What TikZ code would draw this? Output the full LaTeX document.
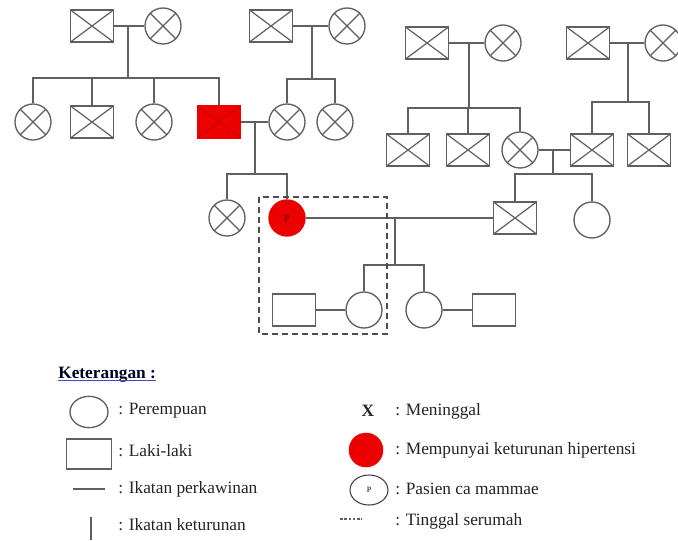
\documentclass[tikz,border=0pt]{standalone}
\usepackage{fontspec}
\setmainfont{Liberation Serif}
\usetikzlibrary{shapes.geometric}
\definecolor{lnc}{RGB}{95,95,95}
\definecolor{hred}{RGB}{237,0,0}
\definecolor{txt}{RGB}{35,35,35}
\definecolor{ulc}{RGB}{70,70,200}
\tikzset{
  ln/.style={draw=lnc, line width=1pt},
  male/.style={rectangle, draw=lnc, line width=1pt, minimum width=32.25pt, minimum height=24pt, inner sep=0pt, fill=white},
  female/.style={ellipse, draw=lnc, line width=1pt, minimum width=27pt, minimum height=27pt, inner sep=0pt, fill=white},
  dead/.style={path picture={\draw[lnc, line width=0.9pt] (path picture bounding box.north west)--(path picture bounding box.south east) (path picture bounding box.south west)--(path picture bounding box.north east);}},
  reddead/.style={fill=hred, draw=hred, path picture={\draw[red!75!black, line width=0.6pt] (path picture bounding box.north west)--(path picture bounding box.south east) (path picture bounding box.south west)--(path picture bounding box.north east);}},
  lab/.style={anchor=west, inner sep=0pt, text=txt, font=\fontsize{13}{15}\selectfont},
}
\begin{document}
\begin{tikzpicture}[x=0.75pt, y=-0.75pt]
\useasboundingbox (0,0) rectangle (678,540);
% ---------- generation 1
\node[male, dead] (A1) at (92,26) {};
\node[female, dead] (A2) at (163,26) {};
\node[male, dead] (B1) at (271,26) {};
\node[female, dead] (B2) at (347,26) {};
\node[male, dead] (C1) at (427,43) {};
\node[female, dead] (C2) at (503,43) {};
\node[male, dead] (D1) at (588,43) {};
\node[female, dead] (D2) at (663,43) {};
% ---------- generation 2
\node[female, dead] (a1) at (33,122) {};
\node[male, dead] (a2) at (92,122) {};
\node[female, dead] (a3) at (154,122) {};
\node[male, reddead] (a4) at (219,122) {};
\node[female, dead] (b1) at (287,122) {};
\node[female, dead] (b2) at (335,122) {};
\node[male, dead] (c1) at (408,150) {};
\node[male, dead] (c2) at (468,150) {};
\node[female, dead] (c3) at (520,150) {};
\node[male, dead] (d1) at (592,150) {};
\node[male, dead] (d2) at (649,150) {};
% ---------- generation 3
\node[female, dead] (e1) at (227,218) {};
\node[female, fill=hred, draw=hred] (e2) at (287,218) {\fontsize{7}{7}\selectfont\bfseries\color{red!40!black}p};
\node[male, dead] (f1) at (515,218) {};
\node[female] (f2) at (592,220) {};
% ---------- generation 4
\node[male] (g1) at (294,310) {};
\node[female] (g2) at (364,310) {};
\node[female] (g3) at (424,310) {};
\node[male] (g4) at (494,310) {};
% ---------- junction coordinates
\coordinate (mA) at (128,26);  \coordinate (bA) at (128,78);
\coordinate (mB) at (312,26);  \coordinate (bB) at (312,79);
\coordinate (mC) at (469,43);  \coordinate (bC) at (469,108);
\coordinate (mD) at (628,43);  \coordinate (bD) at (628,102);
\coordinate (mE) at (255,122); \coordinate (bE) at (255,174);
\coordinate (mF) at (553,150); \coordinate (bF) at (553,174);
\coordinate (mG) at (395,218); \coordinate (bG) at (395,265);
% ---------- marriages
\draw[ln] (A1) -- (A2);
\draw[ln] (B1) -- (B2);
\draw[ln] (C1) -- (C2);
\draw[ln] (D1) -- (D2);
\draw[ln] (a4) -- (b1);
\draw[ln] (c3) -- (d1);
\draw[ln] (e2) -- (f1);
\draw[ln] (g1) -- (g2);
\draw[ln] (g3) -- (g4);
% ---------- descent
\draw[ln] (mA) -- (bA);
\draw[ln] (a1.north) -- (a1.north |- bA) -- (a4.north |- bA) -- (a4.north);
\draw[ln] (a2.north) -- (a2.north |- bA);
\draw[ln] (a3.north) -- (a3.north |- bA);
\draw[ln] (mB) -- (bB);
\draw[ln] (b1.north) -- (b1.north |- bB) -- (b2.north |- bB) -- (b2.north);
\draw[ln] (mC) -- (bC);
\draw[ln] (c1.north) -- (c1.north |- bC) -- (c3.north |- bC) -- (c3.north);
\draw[ln] (c2.north) -- (c2.north |- bC);
\draw[ln] (mD) -- (bD);
\draw[ln] (d1.north) -- (d1.north |- bD) -- (d2.north |- bD) -- (d2.north);
\draw[ln] (mE) -- (bE);
\draw[ln] (e1.north) -- (e1.north |- bE) -- (e2.north |- bE) -- (e2.north);
\draw[ln] (mF) -- (bF);
\draw[ln] (f1.north) -- (f1.north |- bF) -- (f2.north |- bF) -- (f2.north);
\draw[ln] (mG) -- (bG);
\draw[ln] (g2.north) -- (g2.north |- bG) -- (g3.north |- bG) -- (g3.north);
% ---------- household box
\draw[draw=black!70, line width=1.6pt, dash pattern=on 4.5pt off 3pt] (259,197) rectangle (387,334);
% ---------- legend
\node[anchor=west, inner sep=0pt, text=black!85!blue, font=\fontsize{13}{15}\selectfont\bfseries] (ket) at (58,375) {Keterangan :};
\draw[ulc, line width=0.8pt] ([yshift=-1.5pt]ket.base west) -- ([yshift=-1.5pt]ket.base east);
\node[ellipse, draw=lnc, line width=1pt, minimum width=28.5pt, minimum height=23.5pt, inner sep=0pt] (lf) at (89,412) {};
\node[lab] (lft) at (118,411) {: Perempuan};
\node[rectangle, draw=lnc, line width=1pt, minimum width=33.75pt, minimum height=22.5pt, inner sep=0pt] (lm) at (89,454) {};
\node[lab] (lmt) at (118,451) {: Laki-laki};
\coordinate (lw1) at (73,489); \coordinate (lw2) at (105,489);
\draw[ln] (lw1) -- (lw2);
\node[lab] (lwt) at (118,489) {: Ikatan perkawinan};
\coordinate (ld1) at (91,517); \coordinate (ld2) at (91,540);
\draw[ln] (ld1) -- (ld2);
\node[lab] (ldt) at (118,525) {: Ikatan keturunan};
\node[anchor=center, inner sep=0pt, text=txt, font=\fontsize{13}{15}\selectfont\bfseries] (lx) at (368,411) {X};
\node[lab] (lxt) at (395,411) {: Meninggal};
\node[ellipse, fill=hred, draw=hred, minimum width=25.5pt, minimum height=25.5pt, inner sep=0pt] (lr) at (366,450) {};
\node[lab] (lrt) at (395,450) {: Mempunyai keturunan hipertensi};
\node[ellipse, draw=black!75, line width=0.8pt, minimum width=28.5pt, minimum height=22.5pt, inner sep=0pt] (lp) at (369,490) {\fontsize{6}{6}\selectfont P};
\node[lab] (lpt) at (395,489) {: Pasien ca mammae};
\coordinate (ls1) at (340,519); \coordinate (ls2) at (362,519);
\draw[lnc, line width=0.8pt, dash pattern=on 2pt off 1.2pt] (ls1) -- (ls2);
\node[lab] (lst) at (395,521) {: Tinggal serumah};
\end{tikzpicture}
\end{document}
